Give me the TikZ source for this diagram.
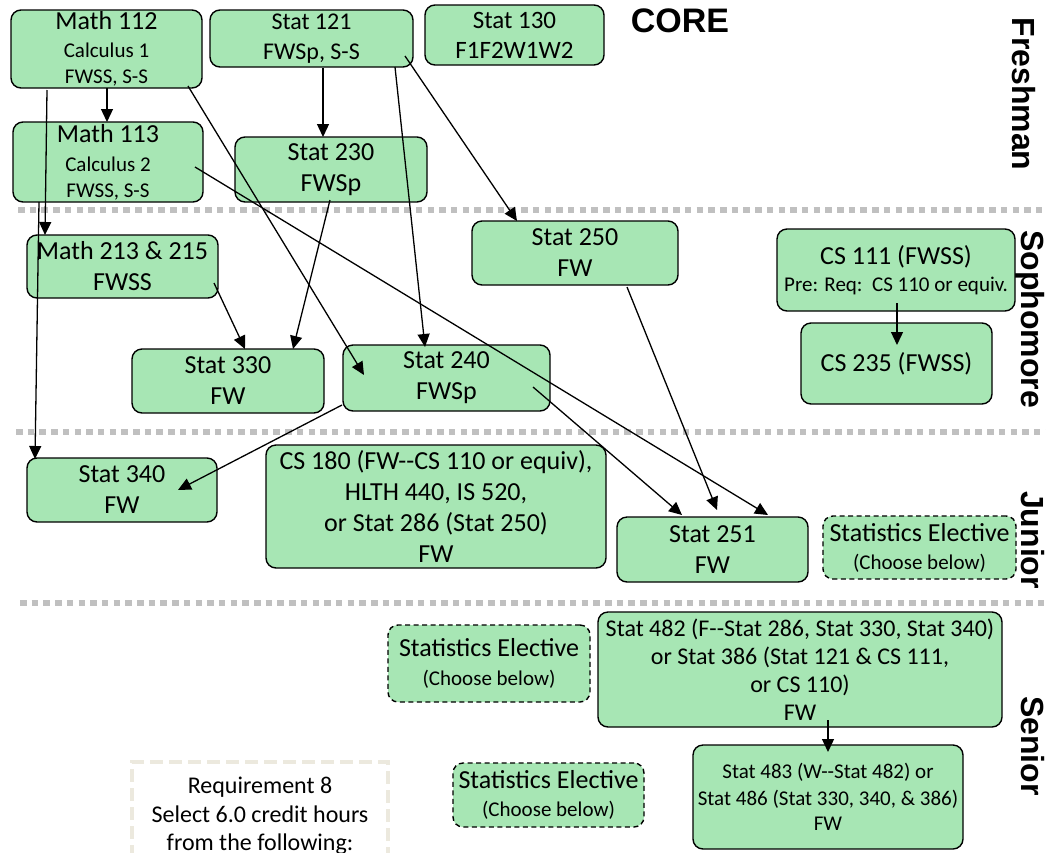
\documentclass[tikz,border=0pt]{standalone}
\usepackage{fontspec}
\setmainfont{Carlito}
\setsansfont{Liberation Sans}
\usetikzlibrary{arrows.meta,calc}
\definecolor{boxgreen}{RGB}{167,230,180}
\definecolor{sepgray}{RGB}{192,192,192}
\definecolor{reqbeige}{RGB}{236,233,222}
\newcommand\fsA{\fontsize{26}{31}\selectfont}
\newcommand\fsB{\fontsize{21}{26.5}\selectfont}
\newcommand\fsC{\fontsize{24}{30}\selectfont}
\newcommand\fsE{\fontsize{25}{30}\selectfont}
\newcommand\fsD{\fontsize{24}{28.5}\selectfont}
\begin{document}
\begin{tikzpicture}[x=1pt,y=-1pt,
  box/.style={draw=black, line width=1.4pt, rounded corners=10pt, fill=boxgreen,
    align=center, inner sep=0pt, font=\fsA},
  elective/.style={box, dash pattern=on 5pt off 3.5pt},
  arr/.style={-{Triangle[length=13pt,width=12pt]}, line width=1.3pt},
  sep/.style={sepgray, line width=5.5pt, dash pattern=on 6.5pt off 5.2pt},
  side/.style={font=\sffamily\bfseries\fontsize{32}{32}\selectfont, rotate=-90, anchor=base, inner sep=0pt}]
\useasboundingbox (0,0) rectangle (1046,852);

% separators
\draw[sep] (18,210) -- (1046,210);
\draw[sep] (16,432) -- (1046,432);
\draw[sep] (20,603) -- (1046,603);

% title and side labels
\node[font=\sffamily\bfseries\fontsize{34}{34}\selectfont, inner sep=0pt] (core) at (680,21) {CORE};
\node[side] (fresh) at (1012,94) {Freshman};
\node[side] (soph) at (1021,319) {Sophomore};
\node[side] (jun) at (1021,540) {Junior};
\node[side] (sen) at (1021,746) {Senior};

% freshman
\node[box, minimum width=191pt, minimum height=78pt] (m112) at (106.5,49)
  {\fsA Math 112\\[-3pt]\fsB Calculus 1\\[-5pt]\fsB FWSS, S-S};
\node[box, minimum width=203pt, minimum height=57pt] (s121) at (311.5,38.5)
  {\fsC Stat 121\\[-1pt]\fsC FWSp, S-S};
\node[box, minimum width=179pt, minimum height=60pt] (s130) at (514.5,35)
  {\fsE Stat 130\\[-1pt]\fsE F1F2W1W2};
\node[box, minimum width=190pt, minimum height=80pt] (m113) at (108,162)
  {\fsA Math 113\\[-2pt]\fsB Calculus 2\\[-5pt]\fsB FWSS, S-S};
\node[box, minimum width=192pt, minimum height=65pt] (s230) at (331,169.5)
  {Stat 230\\FWSp};

% sophomore
\node[box, minimum width=191pt, minimum height=63pt] (m213) at (122.5,266.5)
  {Math 213 \& 215\\FWSS};
\node[box, minimum width=206pt, minimum height=64pt] (s250) at (575,253)
  {Stat 250\\FW};
\node[box, minimum width=238pt, minimum height=82pt] (cs111) at (896,270)
  {\fsA CS 111 (FWSS)\\[-4pt]\fsB Pre: Req:\ \ CS 110 or equiv.};
\node[box, minimum width=191pt, minimum height=81pt] (cs235) at (896.5,363.5)
  {CS 235 (FWSS)};
\node[box, minimum width=192pt, minimum height=64pt] (s330) at (228,381)
  {Stat 330\\FW};
\node[box, minimum width=207pt, minimum height=66pt] (s240) at (446.5,378)
  {Stat 240\\FWSp};

% junior
\node[box, minimum width=190pt, minimum height=64pt] (s340) at (122,490)
  {Stat 340\\FW};
\node[box, minimum width=340pt, minimum height=123pt] (cs180) at (436,506.5)
  {CS 180 (FW-{}-CS 110 or equiv),\\HLTH 440, IS 520,\\or Stat 286 (Stat 250)\\FW};
\node[box, minimum width=191pt, minimum height=65pt] (s251) at (712.5,549.5)
  {Stat 251\\FW};
\node[elective, minimum width=193pt, minimum height=63pt] (el1) at (919.5,547.5)
  {\fsA Statistics Elective\\[-3pt]\fsB (Choose below)};

% senior
\node[elective, minimum width=202pt, minimum height=77pt] (el2) at (489,663.5)
  {\fsA Statistics Elective\\[-2pt]\fsB (Choose below)};
\node[box, minimum width=404pt, minimum height=115pt] (s482) at (800,669.5)
  {\fsD Stat 482 (F-{}-Stat 286, Stat 330, Stat 340)\\[-2.5pt]\fsD or Stat 386 (Stat 121 \& CS 111,\\[-3pt]\fsD or CS 110)\\[-3pt]\fsD FW};
\node[elective, minimum width=191pt, minimum height=64pt] (el3) at (548.5,795)
  {\fsA Statistics Elective\\[-3pt]\fsB (Choose below)};
\node[box, minimum width=270pt, minimum height=104pt] (s483) at (828,797)
  {\fsB Stat 483 (W-{}-Stat 482) or\\[-4pt]\fsB Stat 486 (Stat 330, 340, \& 386)\\[-6pt]\fsB FW};
\node[draw=reqbeige, line width=4.5pt, dash pattern=on 13pt off 6pt, align=center,
  inner sep=0pt, minimum width=256pt, minimum height=108pt, font=\fsD] (req) at (260,816)
  {Requirement 8\\Select 6.0 credit hours\\from the following:};

% connectors
\draw[arr] ($(m112.center)+(0.5,39)$) -- ($(m113.center)+(-1,-40)$);
\draw[arr] ($(m112.center)+(-59.5,41)$) -- ($(m213.center)+(-77.5,-31.5)$);
\draw[arr] ($(m112.center)+(81.5,37)$) -- ($(s240.center)+(-82.5,-3)$);
\draw[arr] ($(m113.center)+(-69,40)$) -- ($(s340.center)+(-87,-31)$);
\draw[arr] ($(m113.center)+(87,5)$) -- ($(s251.center)+(55.5,-34.5)$);
\draw[arr] ($(s121.center)+(11.5,29.5)$) -- ($(s230.center)+(-8,-32.5)$);
\draw[arr] ($(s121.center)+(83.5,28.5)$) -- ($(s240.center)+(-21.5,-31)$);
\draw[arr] ($(s121.center)+(93.5,17.5)$) -- ($(s250.center)+(-58,-32)$);
\draw[arr] ($(s230.center)+(-1,30.5)$) -- ($(s330.center)+(65,-32)$);
\draw[arr] ($(m213.center)+(91.5,16.5)$) -- ($(s330.center)+(17,-32)$);
\draw[arr] ($(s240.center)+(-104.5,27)$) -- ($(s340.center)+(56,0)$);
\draw[arr] ($(s240.center)+(86.5,9)$) -- ($(s251.center)+(-30.5,-34.5)$);
\draw[arr] ($(s250.center)+(52,34)$) -- ($(s251.center)+(4.5,-39.5)$);
\draw[arr] ($(cs111.center)+(1,33)$) -- ($(cs235.center)+(0.5,-18.5)$);
\draw[arr] ($(s482.center)+(28,50.5)$) -- ($(s483.center)+(0,-45)$);
\end{tikzpicture}
\end{document}
